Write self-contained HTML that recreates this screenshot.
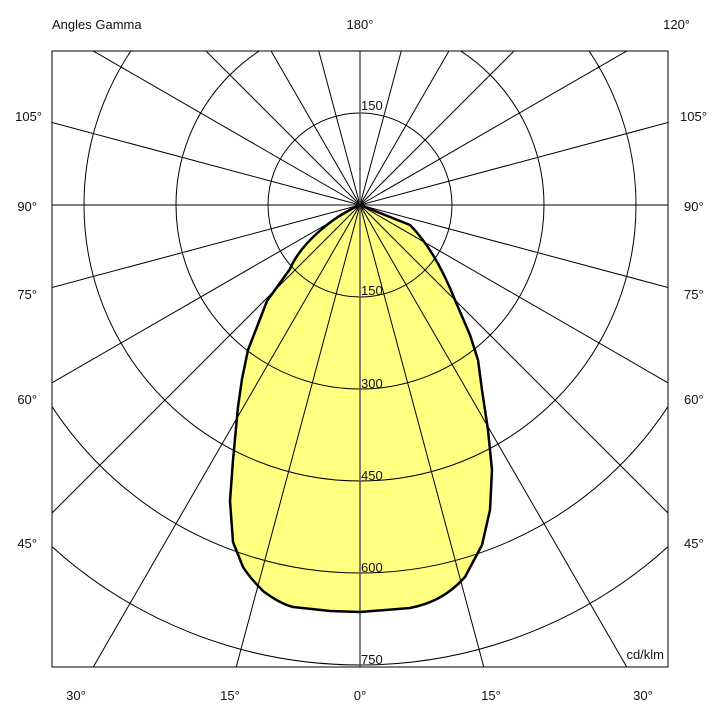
<!DOCTYPE html>
<html><head><style>html,body{margin:0;background:#fff;width:720px;height:720px;overflow:hidden}svg{display:block}text{font-family:"Liberation Sans",Arial,sans-serif;font-size:13px;fill:#111}</style></head>
<body>
<svg width="720" height="720" viewBox="0 0 720 720">
<defs><clipPath id="c"><rect x="52" y="51" width="616" height="616"/></clipPath></defs>
<g clip-path="url(#c)">
<path d="M360,205 C330,218 300,245 290,269 L267,301 L248,350 L242,379 L238,407 L233,460 L230,501 L233,542 L243,567 C250,578 258,586 263,591 C275,600 285,605 293,607 L330,611 L360,612 L410,608 C430,604 448,596 465,577 L482,545 L490,510 L492,470 L488,430 L482,390 L478,360 L470,335 L455,300 C445,275 430,245 410,225 Z" fill="#ffff80" stroke="#f0f070" stroke-width="2"/>
<g fill="none" stroke="#000" stroke-width="1">
<circle cx="360" cy="205" r="92"/>
<circle cx="360" cy="205" r="184"/>
<circle cx="360" cy="205" r="276"/>
<circle cx="360" cy="205" r="368"/>
<circle cx="360" cy="205" r="460"/>
<g id="rl">
<line x1="360" y1="205" x2="360" y2="905"/>
<line x1="360" y1="205" x2="360" y2="-495"/>
</g>
<use href="#rl" transform="rotate(15 360 205)"/>
<use href="#rl" transform="rotate(30 360 205)"/>
<use href="#rl" transform="rotate(45 360 205)"/>
<use href="#rl" transform="rotate(60 360 205)"/>
<use href="#rl" transform="rotate(75 360 205)"/>
<use href="#rl" transform="rotate(90 360 205)"/>
<use href="#rl" transform="rotate(105 360 205)"/>
<use href="#rl" transform="rotate(120 360 205)"/>
<use href="#rl" transform="rotate(135 360 205)"/>
<use href="#rl" transform="rotate(150 360 205)"/>
<use href="#rl" transform="rotate(165 360 205)"/>
</g>
<line x1="360" y1="51" x2="360" y2="667" stroke="#555" stroke-width="1.5"/>
<path d="M360,205 C330,218 300,245 290,269 L267,301 L248,350 L242,379 L238,407 L233,460 L230,501 L233,542 L243,567 C250,578 258,586 263,591 C275,600 285,605 293,607 L330,611 L360,612 L410,608 C430,604 448,596 465,577 L482,545 L490,510 L492,470 L488,430 L482,390 L478,360 L470,335 L455,300 C445,275 430,245 410,225 Z" fill="none" stroke="#000" stroke-width="2.5" stroke-linejoin="round"/>
</g>
<rect x="52" y="51" width="616" height="616" fill="none" stroke="#000" stroke-width="1"/>
<text x="52" y="29">Angles Gamma</text>
<text x="360" y="29" text-anchor="middle">180°</text>
<text x="690" y="29" text-anchor="end">120°</text>
<g text-anchor="end">
<text x="42" y="121">105°</text><text x="37" y="211">90°</text><text x="37" y="299">75°</text><text x="37" y="404">60°</text><text x="37" y="548">45°</text>
</g>
<text x="680" y="121">105°</text><text x="684" y="211">90°</text><text x="684" y="299">75°</text><text x="684" y="404">60°</text><text x="684" y="548">45°</text>
<g text-anchor="middle">
<text x="76" y="700">30°</text><text x="230" y="700">15°</text><text x="360" y="700">0°</text><text x="491" y="700">15°</text><text x="643" y="700">30°</text>
</g>
<text x="361" y="110">150</text>
<text x="361" y="295">150</text>
<text x="361" y="388">300</text>
<text x="361" y="480">450</text>
<text x="361" y="572">600</text>
<text x="361" y="664">750</text>
<text x="664" y="659" text-anchor="end">cd/klm</text>
</svg>
</body></html>
